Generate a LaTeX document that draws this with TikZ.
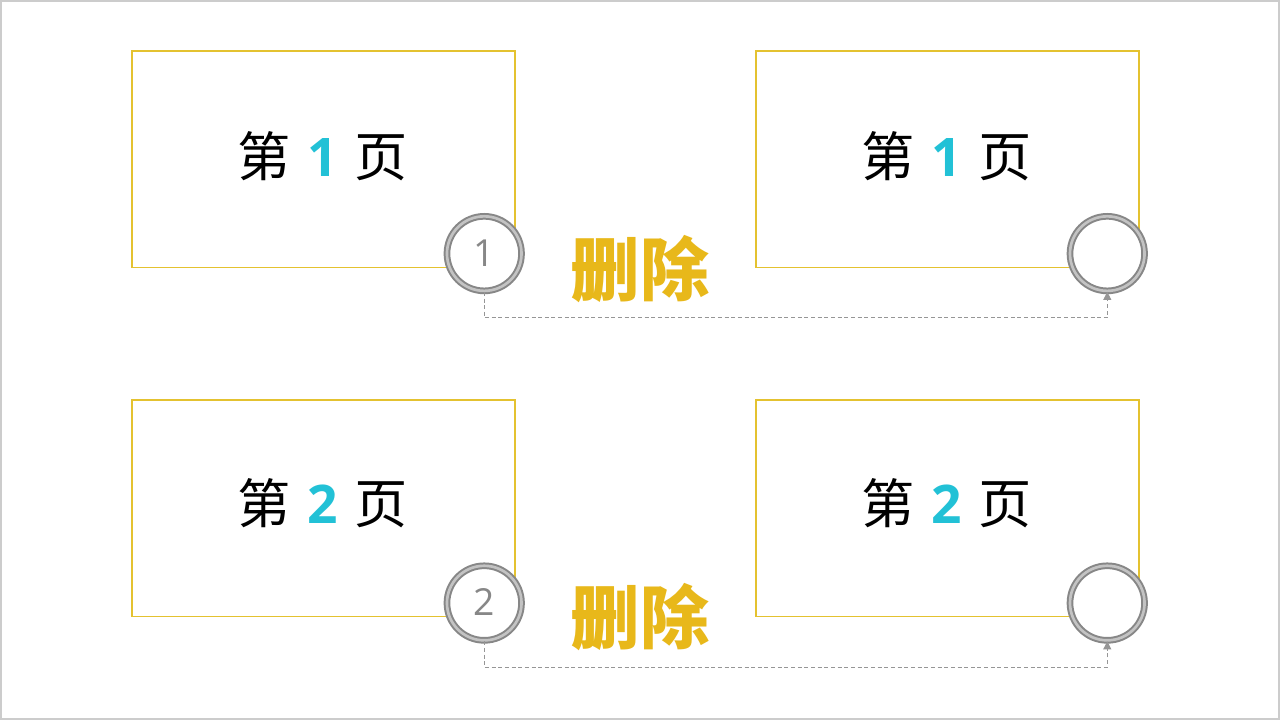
\documentclass[tikz,border=0pt]{standalone}
\usepackage{fontspec}
\newfontfamily\cjk{Noto Sans CJK SC}
\newfontfamily\numfont{Open Sans}
\usetikzlibrary{arrows.meta}
\definecolor{boxyellow}{RGB}{228,194,48}
\definecolor{deleteyellow}{RGB}{232,184,26}
\definecolor{numcyan}{RGB}{34,193,214}
\definecolor{ringgray}{RGB}{135,135,135}
\definecolor{ringlight}{RGB}{195,195,195}
\definecolor{linkgray}{RGB}{150,150,150}

\tikzset{
  pagebox/.style={draw=boxyellow,line width=1.3pt,fill=white,minimum width=288pt,minimum height=162.75pt,inner sep=0pt},
  ring/.style={circle,draw=ringgray,line width=1.5pt,double=ringlight,double distance=2pt,fill=white,minimum size=56pt,inner sep=0pt,
    font=\numfont\fontsize{28}{28}\selectfont,text=ringgray},
  pagetext/.style={font=\cjk\fontsize{40}{40}\selectfont},
  deltext/.style={font=\cjk\bfseries\fontsize{52}{52}\selectfont,text=deleteyellow},
  link/.style={draw=linkgray,line width=0.6pt,dash pattern=on 3pt off 2pt,-{Triangle[length=6pt,width=6pt]}}
}
\newcommand{\pagelabel}[1]{第\hspace{0.32em}{\numfont\bfseries\color{numcyan}#1}\hspace{0.32em}页}

\begin{document}
\begin{tikzpicture}[x=0.75pt,y=-0.75pt]
  \draw[draw=black!20,line width=1.5pt,fill=white] (0,0) rectangle (1280,719);
  \useasboundingbox (0,0) rectangle (1280,719);
  % first row
  \node[pagebox] (p1l) at (323,158.5) {};
  \node[pagebox] (p1r) at (948,158.5) {};
  \node[pagetext] (t1l) at (322,155) {\pagelabel{1}};
  \node[pagetext] (t1r) at (947,155) {\pagelabel{1}};
  \node[ring] (c1l) at (484,253) {\raisebox{1pt}{1}};
  \node[ring] (c1r) at (1108,253) {};
  \node[deltext] (d1) at (640,268) {删除};
  \draw[link] (c1l.south) -- ++(0,26) -| (c1r.south);
  % second row
  \node[pagebox] (p2l) at (323,508) {};
  \node[pagebox] (p2r) at (948,508) {};
  \node[pagetext] (t2l) at (322,503) {\pagelabel{2}};
  \node[pagetext] (t2r) at (947,503) {\pagelabel{2}};
  \node[ring] (c2l) at (484,603) {\raisebox{1pt}{2}};
  \node[ring] (c2r) at (1108,603) {};
  \node[deltext] (d2) at (640,617) {删除};
  \draw[link] (c2l.south) -- ++(0,26) -| (c2r.south);
\end{tikzpicture}
\end{document}
